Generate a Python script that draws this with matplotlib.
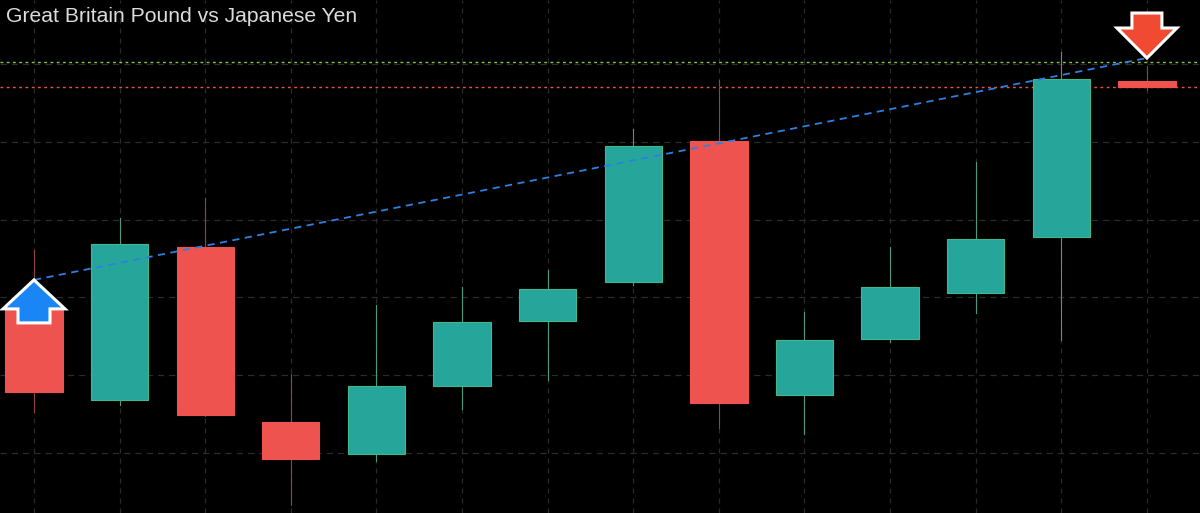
import matplotlib
matplotlib.use("Agg")
import matplotlib.pyplot as plt
import matplotlib.transforms as mtransforms
from matplotlib.patches import Rectangle, Polygon
import numpy as np

# GBP/JPY candles
opens = [150.920, 150.341, 151.325, 150.199, 149.994, 150.431, 150.849,
         151.100, 152.006, 150.373, 150.733, 151.029, 151.389, 152.392]
highs = [151.305, 151.511, 151.640, 150.508, 150.952, 151.068, 151.177,
         152.084, 152.399, 150.907, 151.325, 151.871, 152.579, 152.489]
lows = [150.264, 150.309, 150.238, 149.666, 149.949, 150.283, 150.469,
        151.080, 150.161, 150.122, 150.714, 150.900, 150.727, 152.334]
closes = [150.392, 151.344, 150.244, 149.961, 150.431, 150.842, 151.055,
          151.974, 150.322, 150.727, 151.068, 151.376, 152.405, 152.354]

target_level = 152.514   # green dotted
price_level = 152.354    # red dotted
trend_start = (0, 151.113)
trend_end = (13, 152.540)

UP = '#26a69a'
DOWN = '#ef5350'

fig = plt.figure(figsize=(12, 5.13), dpi=100, facecolor='black')
ax = fig.add_axes([0, 0, 1, 1])
ax.set_facecolor('black')
ax.set_xlim(-0.397, 13.62)
ax.set_ylim(149.614, 152.913)
for s in ax.spines.values():
    s.set_visible(False)
ax.set_xticks([])
ax.set_yticks([])

# grid
for i in range(len(opens)):
    ax.axvline(i, color='#2b2b2b', lw=0.9, ls=(0, (4, 4)), zorder=0)
for lev in np.arange(149.5, 153.1, 0.5):
    ax.axhline(lev, color='#2b2b2b', lw=0.9, ls=(0, (5, 4)), zorder=0)

# candles
w = 0.67
for i, (o, h, l, c) in enumerate(zip(opens, highs, lows, closes)):
    up = c >= o
    col = UP if up else DOWN
    wick = '#4a9a7c' if up else '#8e4440'
    ax.plot([i, i], [l, h], color=wick, lw=0.8, zorder=2)
    edge = '#3fb88c' if up else DOWN
    ax.add_patch(Rectangle((i - w / 2, min(o, c)), w, abs(c - o),
                           facecolor=col, edgecolor=edge, lw=0.8, zorder=3))

# level lines
ax.axhline(target_level, color='#8bc34a', lw=1.0, ls=(0, (2, 2.5)), zorder=1)
ax.axhline(price_level, color='#e8553f', lw=1.0, ls=(0, (2, 2.5)), zorder=1)

# trend line
ax.plot([trend_start[0], trend_end[0]], [trend_start[1], trend_end[1]],
        color='#2f7fe0', lw=1.3, ls=(0, (4, 3)), zorder=4)

# buy / sell arrows (shape in pixels)
def arrow(x, y, verts, color):
    verts = np.array(verts) / 100.0
    tr = fig.dpi_scale_trans + mtransforms.ScaledTranslation(x, y, ax.transData)
    ax.add_patch(Polygon(verts, closed=True, facecolor=color, edgecolor='white',
                         lw=2.2, joinstyle='miter', transform=tr, zorder=6))

up_shape = [(0, 0), (31, -29), (16, -29), (16, -43), (-16, -43), (-16, -29), (-31, -29)]
down_shape = [(0, 0), (30, 30), (15, 30), (15, 45), (-15, 45), (-15, 30), (-30, 30)]
arrow(trend_start[0], trend_start[1], up_shape, '#1a86f5')
arrow(trend_end[0], trend_end[1], down_shape, '#f04a33')

fig.text(6 / 1200, 1 - 17 / 513, 'Great Britain Pound vs Japanese Yen',
         color='#dcdcdc', fontsize=15.2, family='Liberation Sans', va='center', ha='left')

fig.savefig('out.png', dpi=100, facecolor='black')
